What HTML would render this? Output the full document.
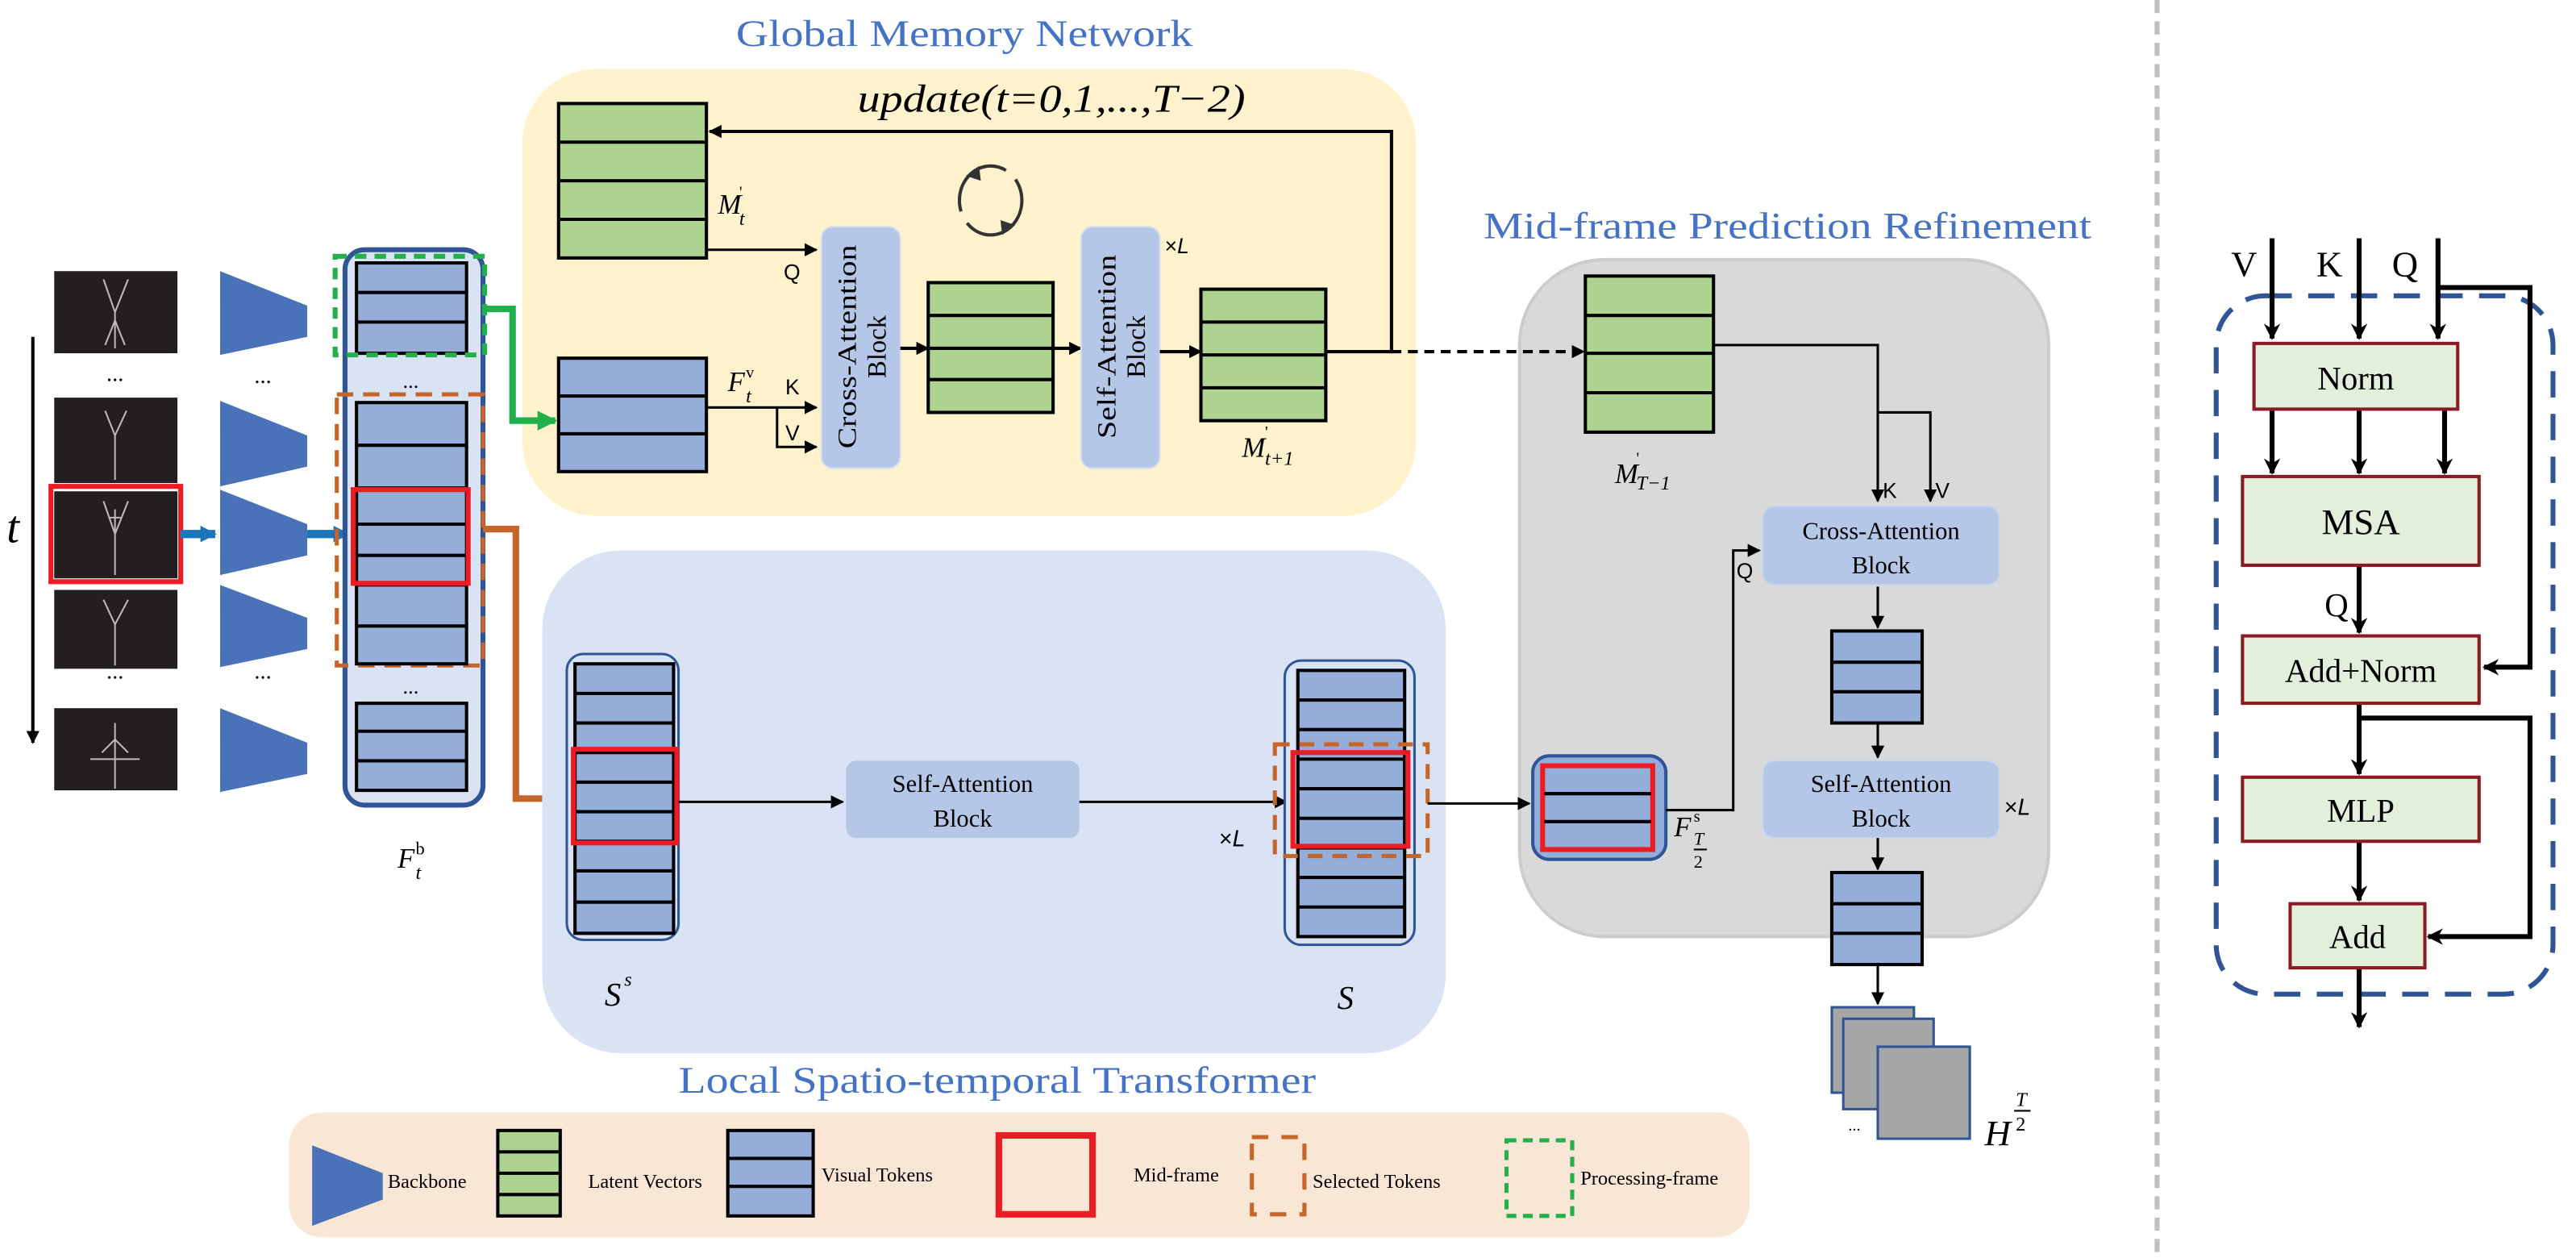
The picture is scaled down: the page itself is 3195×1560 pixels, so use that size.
<!DOCTYPE html>
<html><head><meta charset="utf-8"><style>
html,body{margin:0;padding:0;background:#fff;}
svg{display:block;}
text{font-family:"Liberation Serif",serif;}
.s{font-family:"Liberation Sans",sans-serif;}
</style></head><body>
<svg width="3195" height="1560" viewBox="0 0 1568 765.6" preserveAspectRatio="none" xmlns="http://www.w3.org/2000/svg">
<defs>
<marker id="a" viewBox="0 0 10 10" refX="9" refY="5" markerWidth="8" markerHeight="8" orient="auto-start-reverse" markerUnits="userSpaceOnUse"><path d="M0,0L10,5L0,10z" fill="#000"/></marker>
<marker id="ab" viewBox="0 0 10 10" refX="9" refY="5" markerWidth="10" markerHeight="10" orient="auto" markerUnits="userSpaceOnUse"><path d="M0,0L10,5L0,10L3,5z" fill="#000"/></marker>
<marker id="bl" viewBox="0 0 10 10" refX="9" refY="5" markerWidth="10" markerHeight="14" orient="auto" markerUnits="userSpaceOnUse"><path d="M0,0L10,5L0,10z" fill="#1A75BB"/></marker>
<marker id="gr" viewBox="0 0 10 10" refX="9" refY="5" markerWidth="12" markerHeight="16" orient="auto" markerUnits="userSpaceOnUse"><path d="M0,0L10,5L0,10z" fill="#22B04B"/></marker>
<marker id="or" viewBox="0 0 10 10" refX="9" refY="5" markerWidth="12" markerHeight="16" orient="auto" markerUnits="userSpaceOnUse"><path d="M0,0L10,5L0,10z" fill="#C5652A"/></marker>
</defs>

<text x="587" y="28" font-size="23" fill="#4472C4" text-anchor="middle" textLength="278" lengthAdjust="spacingAndGlyphs">Global Memory Network</text>
<text x="1088" y="145" font-size="23" fill="#4472C4" text-anchor="middle" textLength="370" lengthAdjust="spacingAndGlyphs">Mid-frame Prediction Refinement</text>
<text x="607" y="665" font-size="23" fill="#4472C4" text-anchor="middle" textLength="388" lengthAdjust="spacingAndGlyphs">Local Spatio-temporal Transformer</text>

<!-- yellow box -->
<rect x="318" y="42" width="544" height="272" rx="45" fill="#FFF2CC"/>
<text x="522" y="68" font-size="24" font-style="italic" textLength="236" lengthAdjust="spacingAndGlyphs">update(t=0,1,...,T−2)</text>
<rect x="340" y="63" width="90" height="94" fill="#AED391" stroke="#000" stroke-width="2"/>
<path d="M340,86.5H430M340,110H430M340,133.5H430" stroke="#000" stroke-width="2"/>
<text x="437" y="130" font-size="17" font-style="italic">M</text><text x="450" y="120" font-size="10">'</text><text x="450" y="137" font-size="12" font-style="italic">t</text>
<path d="M430,152H497" stroke="#000" stroke-width="1.5" marker-end="url(#a)"/>
<text x="477" y="170" font-size="13" class="s">Q</text>
<ellipse cx="603" cy="122" rx="19" ry="21" fill="none" stroke="#333" stroke-width="2" stroke-dasharray="48,8"/>
<path d="M588,107l8,-6l1,9z" fill="#333"/><path d="M618,137l-8,6l-1,-9z" fill="#333"/>
<rect x="500" y="138" width="48" height="147" rx="7" fill="#B4C7E7" stroke="#D6E0F0"/>
<text transform="translate(521,211) rotate(-90)" font-size="16" text-anchor="middle" textLength="124" lengthAdjust="spacingAndGlyphs">Cross-Attention</text>
<text transform="translate(539,211) rotate(-90)" font-size="16" text-anchor="middle">Block</text>
<rect x="565" y="172" width="76" height="79" fill="#AED391" stroke="#000" stroke-width="2"/>
<path d="M565,192H641M565,212H641M565,231H641" stroke="#000" stroke-width="2"/>
<path d="M548,212H565" stroke="#000" stroke-width="2" marker-end="url(#a)"/>
<path d="M641,212H658" stroke="#000" stroke-width="2" marker-end="url(#a)"/>
<rect x="658" y="138" width="48" height="147" rx="7" fill="#B4C7E7" stroke="#D6E0F0"/>
<text transform="translate(679,211) rotate(-90)" font-size="16" text-anchor="middle" textLength="112" lengthAdjust="spacingAndGlyphs">Self-Attention</text>
<text transform="translate(697,211) rotate(-90)" font-size="16" text-anchor="middle">Block</text>
<text x="709" y="154" font-size="13" class="s">×<tspan font-style="italic">L</tspan></text>
<path d="M706,214H731" stroke="#000" stroke-width="2" marker-end="url(#a)"/>
<rect x="731" y="176" width="76" height="80" fill="#AED391" stroke="#000" stroke-width="2"/>
<path d="M731,196H807M731,216H807M731,236H807" stroke="#000" stroke-width="2"/>
<text x="756" y="278" font-size="17" font-style="italic">M</text><text x="770" y="266" font-size="10">'</text><text x="770" y="283" font-size="12" font-style="italic">t+1</text>
<path d="M807,214H847V80H432" fill="none" stroke="#000" stroke-width="2" marker-end="url(#a)"/>
<rect x="340" y="218" width="90" height="69" fill="#95ADD9" stroke="#000" stroke-width="2"/>
<path d="M340,241H430M340,264H430" stroke="#000" stroke-width="2"/>
<text x="443" y="238" font-size="17" font-style="italic">F</text><text x="454" y="230" font-size="10">v</text><text x="454" y="245" font-size="12" font-style="italic">t</text>
<path d="M430,248H497" stroke="#000" stroke-width="1.5" marker-end="url(#a)"/>
<path d="M473,248V272H497" fill="none" stroke="#000" stroke-width="1.5" marker-end="url(#a)"/>
<text x="478" y="240" font-size="13" class="s">K</text>
<text x="478" y="268" font-size="13" class="s">V</text>

<!-- left -->
<path d="M20,205V452" stroke="#000" stroke-width="2" marker-end="url(#a)"/>
<text x="4" y="330" font-size="28" font-style="italic">t</text>
<rect x="33" y="165" width="75" height="50" fill="#231F20"/>
<rect x="33" y="242" width="75" height="52" fill="#231F20"/>
<rect x="33" y="299" width="75" height="53" fill="#231F20"/>
<rect x="31" y="296" width="79" height="58" fill="none" stroke="#ED1C24" stroke-width="3"/>
<rect x="33" y="359" width="75" height="48" fill="#231F20"/>
<rect x="33" y="431" width="75" height="50" fill="#231F20"/>
<g stroke="#bbb" stroke-width="1" fill="none">
<path d="M63,170L70,190L78,170M70,190V212M64,210L70,195L76,210"/>
<path d="M64,250L70,265L77,250M70,265V292"/>
<path d="M63,305L70,325L78,305M70,310V350M66,315h8"/>
<path d="M63,365L70,380L78,365M70,380V405"/>
<path d="M55,462H85M70,440V480M62,458L70,450L78,458"/>
</g>
<text x="70" y="232" font-size="14" text-anchor="middle">...</text>
<text x="70" y="413" font-size="14" text-anchor="middle">...</text>
<g fill="#4A72B8">
<path d="M134,165L187,186V205L134,216Z"/>
<path d="M134,244L187,265V284L134,296Z"/>
<path d="M134,298L187,319V338L134,350Z"/>
<path d="M134,356L187,376V395L134,406Z"/>
<path d="M134,431L187,452V471L134,482Z"/>
</g>
<text x="160" y="233" font-size="14" text-anchor="middle">...</text>
<text x="160" y="413" font-size="14" text-anchor="middle">...</text>
<path d="M110,325H131" stroke="#1A75BB" stroke-width="5" marker-end="url(#bl)"/>
<path d="M187,325H212" stroke="#1A75BB" stroke-width="5" marker-end="url(#bl)"/>

<!-- F_t^b column -->
<rect x="210" y="152" width="84" height="338" rx="12" fill="#DAE3F3" stroke="#2F5597" stroke-width="3"/>
<rect x="217" y="160" width="67" height="55" fill="#95ADD9" stroke="#000" stroke-width="2"/>
<path d="M217,178H284M217,196H284" stroke="#000" stroke-width="2"/>
<rect x="204" y="156" width="91" height="60" fill="none" stroke="#22B04B" stroke-width="3" stroke-dasharray="7,5"/>
<text x="250" y="236" font-size="13" text-anchor="middle">...</text>
<rect x="205" y="240" width="89" height="165" fill="none" stroke="#C5652A" stroke-width="2.5" stroke-dasharray="10,6"/>
<rect x="217" y="245" width="67" height="159" fill="#95ADD9" stroke="#000" stroke-width="2"/>
<path d="M217,271H284M217,297H284M217,319H284M217,338H284M217,356H284M217,381H284" stroke="#000" stroke-width="2"/>
<rect x="215" y="298" width="70" height="57" fill="none" stroke="#ED1C24" stroke-width="3"/>
<text x="250" y="422" font-size="13" text-anchor="middle">...</text>
<rect x="217" y="428" width="67" height="53" fill="#95ADD9" stroke="#000" stroke-width="2"/>
<path d="M217,445H284M217,463H284" stroke="#000" stroke-width="2"/>
<text x="242" y="528" font-size="17" font-style="italic">F</text><text x="253" y="520" font-size="11">b</text><text x="253" y="535" font-size="12" font-style="italic">t</text>
<path d="M295,188H312V256H338" fill="none" stroke="#22B04B" stroke-width="4" marker-end="url(#gr)"/>
<path d="M294,322H314V486H344" fill="none" stroke="#C5652A" stroke-width="4" marker-end="url(#or)"/>

<!-- Local box -->
<rect x="330" y="335" width="550" height="306" rx="48" fill="#DAE3F3"/>
<rect x="345" y="398" width="68" height="174" rx="10" fill="#DAE3F3" stroke="#2F5597" stroke-width="1.5"/>
<rect x="350" y="404" width="60" height="164" fill="#95ADD9" stroke="#000" stroke-width="2"/>
<path d="M350,422H410M350,440H410M350,458H410M350,476H410M350,494H410M350,512H410M350,530H410M350,549H410" stroke="#000" stroke-width="2"/>
<rect x="349" y="456" width="63" height="57" fill="none" stroke="#ED1C24" stroke-width="3"/>
<text x="368" y="612" font-size="20" font-style="italic">S</text><text x="380" y="600" font-size="12" font-style="italic">s</text>
<path d="M413,488H513" stroke="#000" stroke-width="1.5" marker-end="url(#a)"/>
<rect x="515" y="463" width="142" height="47" rx="6" fill="#B4C7E7"/>
<text x="586" y="482" font-size="15" text-anchor="middle">Self-Attention</text>
<text x="586" y="503" font-size="15" text-anchor="middle">Block</text>
<path d="M657,488H783" stroke="#000" stroke-width="1.5" marker-end="url(#a)"/>
<text x="742" y="515" font-size="14" class="s">×<tspan font-style="italic">L</tspan></text>
<rect x="782" y="402" width="79" height="173" rx="10" fill="#DAE3F3" stroke="#2F5597" stroke-width="1.5"/>
<rect x="790" y="408" width="65" height="162" fill="#95ADD9" stroke="#000" stroke-width="2"/>
<path d="M790,426H855M790,444H855M790,462H855M790,480H855M790,498H855M790,516H855M790,534H855M790,552H855" stroke="#000" stroke-width="2"/>
<rect x="776" y="453" width="93" height="68" fill="none" stroke="#C5652A" stroke-width="2.5" stroke-dasharray="9,6"/>
<rect x="787" y="458" width="70" height="57" fill="none" stroke="#ED1C24" stroke-width="3"/>
<text x="814" y="614" font-size="20" font-style="italic">S</text>

<!-- Mid-frame gray box -->
<rect x="925" y="158" width="322" height="412" rx="52" fill="#D9D9D9" stroke="#CCCCCC" stroke-width="2"/>
<path d="M869,489H931" stroke="#000" stroke-width="1.5" marker-end="url(#a)"/>
<path d="M847,214H964" fill="none" stroke="#000" stroke-width="2" stroke-dasharray="6,4" marker-end="url(#a)"/>
<rect x="965" y="168" width="78" height="95" fill="#AED391" stroke="#000" stroke-width="2"/>
<path d="M965,192H1043M965,215H1043M965,239H1043" stroke="#000" stroke-width="2"/>
<text x="983" y="294" font-size="17" font-style="italic">M</text><text x="996" y="282" font-size="10">'</text><text x="996" y="298" font-size="12" font-style="italic">T−1</text>
<path d="M1043,210H1143V305" fill="none" stroke="#000" stroke-width="1.5" marker-end="url(#a)"/>
<path d="M1143,251H1175V305" fill="none" stroke="#000" stroke-width="1.5" marker-end="url(#a)"/>
<text x="1146" y="303" font-size="13" class="s">K</text>
<text x="1178" y="303" font-size="13" class="s">V</text>
<rect x="1073" y="308" width="144" height="48" rx="7" fill="#B4C7E7" stroke="#C9D6EC"/>
<text x="1145" y="328" font-size="15" text-anchor="middle">Cross-Attention</text>
<text x="1145" y="349" font-size="15" text-anchor="middle">Block</text>
<rect x="933" y="460" width="81" height="63" rx="10" fill="#95ADD9" stroke="#2F5597" stroke-width="2"/>
<rect x="939" y="466" width="67" height="51" fill="#95ADD9" stroke="#ED1C24" stroke-width="3"/>
<path d="M940,483H1005M940,500H1005" stroke="#000" stroke-width="2"/>
<text x="1019" y="509" font-size="17" font-style="italic">F</text><text x="1031" y="500" font-size="10">s</text><text x="1031" y="514" font-size="11" font-style="italic">T</text>
<path d="M1031,517H1039" stroke="#000" stroke-width="1"/><text x="1031" y="528" font-size="11">2</text>
<path d="M1014,493H1055V335H1071" fill="none" stroke="#000" stroke-width="1.5" marker-end="url(#a)"/>
<text x="1057" y="352" font-size="13" class="s">Q</text>
<path d="M1143,357V382" stroke="#000" stroke-width="1.5" marker-end="url(#a)"/>
<rect x="1115" y="384" width="55" height="56" fill="#95ADD9" stroke="#000" stroke-width="2"/>
<path d="M1115,403H1170M1115,421H1170" stroke="#000" stroke-width="2"/>
<path d="M1143,440V461" stroke="#000" stroke-width="1.5" marker-end="url(#a)"/>
<rect x="1073" y="463" width="144" height="47" rx="7" fill="#B4C7E7" stroke="#C9D6EC"/>
<text x="1145" y="482" font-size="15" text-anchor="middle">Self-Attention</text>
<text x="1145" y="503" font-size="15" text-anchor="middle">Block</text>
<text x="1220" y="496" font-size="14" class="s">×<tspan font-style="italic">L</tspan></text>
<path d="M1143,510V529" stroke="#000" stroke-width="1.5" marker-end="url(#a)"/>
<rect x="1115" y="531" width="55" height="56" fill="#95ADD9" stroke="#000" stroke-width="2"/>
<path d="M1115,550H1170M1115,568H1170" stroke="#000" stroke-width="2"/>
<path d="M1143,587V611" stroke="#000" stroke-width="1.5" marker-end="url(#a)"/>
<rect x="1115" y="613" width="50" height="52" fill="#A6A6A6" stroke="#2F5597" stroke-width="1.5"/>
<rect x="1122" y="620" width="55" height="55" fill="#A6A6A6" stroke="#2F5597" stroke-width="1.5"/>
<rect x="1143" y="637" width="56" height="56" fill="#A6A6A6" stroke="#2F5597" stroke-width="1.5"/>
<text x="1125" y="688" font-size="10">...</text>
<text x="1208" y="697" font-size="22" font-style="italic">H</text><text x="1227" y="673" font-size="12" font-style="italic">T</text>
<path d="M1226,676H1236" stroke="#000" stroke-width="1"/><text x="1227" y="688" font-size="12">2</text>

<path d="M1313,0V766" stroke="#BFBFBF" stroke-width="3" stroke-dasharray="8,5"/>

<!-- right panel -->
<rect x="1349" y="180" width="205" height="425" rx="30" fill="none" stroke="#2F5597" stroke-width="3" stroke-dasharray="16,10"/>
<text x="1358" y="168" font-size="22">V</text>
<text x="1410" y="168" font-size="22">K</text>
<text x="1456" y="168" font-size="22">Q</text>
<g stroke="#000" stroke-width="3" fill="none">
<path d="M1383,145V206" marker-end="url(#ab)"/>
<path d="M1436,145V206" marker-end="url(#ab)"/>
<path d="M1484,145V206" marker-end="url(#ab)"/>
<path d="M1484,175H1540V406H1512" marker-end="url(#ab)"/>
<path d="M1383,250V288" marker-end="url(#ab)"/>
<path d="M1436,250V288" marker-end="url(#ab)"/>
<path d="M1488,250V288" marker-end="url(#ab)"/>
<path d="M1436,344V385" marker-end="url(#ab)"/>
<path d="M1436,428V471" marker-end="url(#ab)"/>
<path d="M1436,437H1540V570H1478" marker-end="url(#ab)"/>
<path d="M1436,512V548" marker-end="url(#ab)"/>
<path d="M1436,588V625" marker-end="url(#ab)"/>
</g>
<g fill="#E2EFDA" stroke="#8B1A24" stroke-width="2">
<rect x="1372" y="209" width="124" height="40"/>
<rect x="1365" y="290" width="144" height="54"/>
<rect x="1365" y="387" width="144" height="41"/>
<rect x="1365" y="473" width="144" height="39"/>
<rect x="1394" y="550" width="82" height="39"/>
</g>
<text x="1434" y="237" font-size="20" text-anchor="middle">Norm</text>
<text x="1437" y="325" font-size="22" text-anchor="middle">MSA</text>
<text x="1415" y="375" font-size="20">Q</text>
<text x="1437" y="415" font-size="20" text-anchor="middle">Add+Norm</text>
<text x="1437" y="500" font-size="20" text-anchor="middle">MLP</text>
<text x="1435" y="577" font-size="20" text-anchor="middle">Add</text>

<!-- legend -->
<rect x="176" y="677" width="889" height="76" rx="20" fill="#F9E6D4"/>
<path d="M190,697L233,714V730L190,746Z" fill="#4A72B8"/>
<text x="236" y="723" font-size="12">Backbone</text>
<rect x="303" y="688" width="38" height="52" fill="#AED391" stroke="#000" stroke-width="2"/>
<path d="M303,701H341M303,714H341M303,727H341" stroke="#000" stroke-width="2"/>
<text x="358" y="723" font-size="12">Latent Vectors</text>
<rect x="443" y="688" width="52" height="52" fill="#95ADD9" stroke="#000" stroke-width="2"/>
<path d="M443,705H495M443,722H495" stroke="#000" stroke-width="2"/>
<text x="500" y="719" font-size="12">Visual Tokens</text>
<rect x="608" y="691" width="57" height="48" fill="none" stroke="#ED1C24" stroke-width="4"/>
<text x="690" y="719" font-size="12">Mid-frame</text>
<rect x="762" y="692" width="32" height="47" fill="none" stroke="#C5652A" stroke-width="2.5" stroke-dasharray="10,8"/>
<text x="799" y="723" font-size="12">Selected Tokens</text>
<rect x="917" y="694" width="40" height="46" fill="none" stroke="#22B04B" stroke-width="2.5" stroke-dasharray="6,4"/>
<text x="962" y="721" font-size="12">Processing-frame</text>
</svg>
</body></html>
